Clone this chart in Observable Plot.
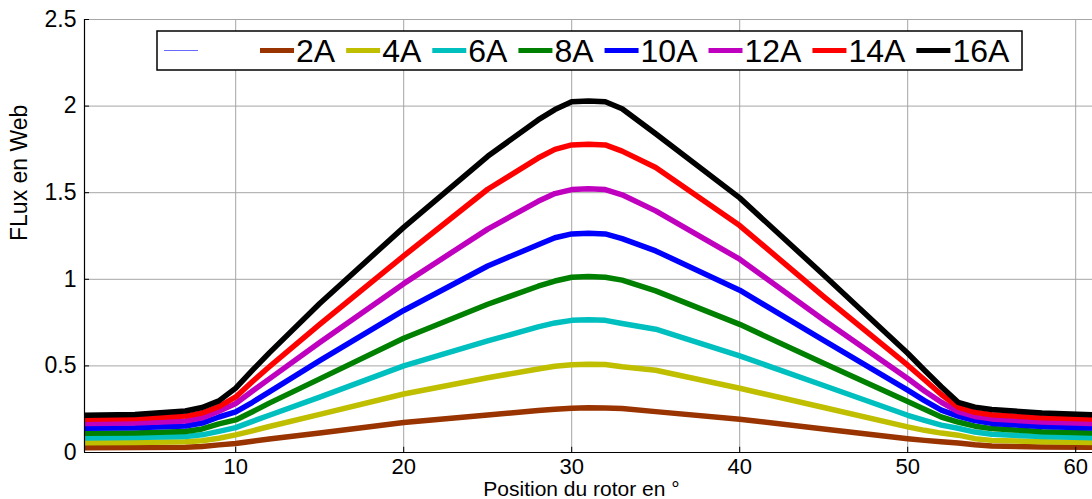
<!DOCTYPE html>
<html>
<head>
<meta charset="utf-8">
<script src="https://cdn.jsdelivr.net/npm/d3@7"></script>
<script src="https://cdn.jsdelivr.net/npm/@observablehq/plot@0.6"></script>
<style>
  html, body { margin: 0; padding: 0; background: #fff; }
  #chart { width: 1092px; height: 499px; }
</style>
</head>
<body>
<div id="chart"></div>
<script>
// rotor positions (degrees)
const positions = [1, 4, 7, 8, 9, 10, 11, 12, 15, 20, 25, 28, 29, 30, 31, 32, 33, 35, 40, 45, 50, 51, 52, 53, 54, 55, 58, 61];

// flux (Wb) per current
const flux2A  = [0.028, 0.029, 0.031, 0.035, 0.044, 0.052, 0.065, 0.078, 0.113, 0.173, 0.217, 0.242, 0.250, 0.256, 0.258, 0.257, 0.254, 0.236, 0.192, 0.136, 0.080, 0.070, 0.062, 0.055, 0.045, 0.038, 0.032, 0.030];
const flux4A  = [0.057, 0.058, 0.062, 0.068, 0.082, 0.102, 0.125, 0.150, 0.220, 0.338, 0.432, 0.482, 0.498, 0.506, 0.510, 0.508, 0.495, 0.475, 0.371, 0.260, 0.148, 0.128, 0.112, 0.100, 0.080, 0.070, 0.062, 0.058];
const flux6A  = [0.084, 0.086, 0.092, 0.102, 0.122, 0.144, 0.180, 0.215, 0.320, 0.500, 0.644, 0.725, 0.748, 0.763, 0.766, 0.763, 0.745, 0.712, 0.558, 0.387, 0.215, 0.185, 0.158, 0.140, 0.118, 0.105, 0.092, 0.085];
const flux8A  = [0.111, 0.113, 0.121, 0.136, 0.165, 0.188, 0.235, 0.285, 0.425, 0.660, 0.856, 0.960, 0.990, 1.012, 1.016, 1.012, 0.995, 0.933, 0.740, 0.515, 0.294, 0.250, 0.205, 0.176, 0.152, 0.138, 0.120, 0.112];
const flux10A = [0.140, 0.143, 0.153, 0.170, 0.205, 0.234, 0.290, 0.350, 0.530, 0.820, 1.077, 1.200, 1.240, 1.262, 1.266, 1.262, 1.235, 1.164, 0.937, 0.648, 0.360, 0.300, 0.245, 0.210, 0.184, 0.168, 0.150, 0.141];
const flux12A = [0.167, 0.170, 0.182, 0.200, 0.238, 0.283, 0.355, 0.425, 0.635, 0.975, 1.290, 1.450, 1.495, 1.518, 1.523, 1.518, 1.488, 1.395, 1.116, 0.765, 0.427, 0.355, 0.290, 0.236, 0.208, 0.194, 0.176, 0.168];
const flux14A = [0.192, 0.196, 0.210, 0.228, 0.265, 0.321, 0.410, 0.495, 0.740, 1.135, 1.520, 1.700, 1.750, 1.776, 1.780, 1.776, 1.740, 1.645, 1.310, 0.900, 0.504, 0.420, 0.335, 0.262, 0.232, 0.218, 0.200, 0.193];
const flux16A = [0.215, 0.220, 0.240, 0.260, 0.298, 0.372, 0.475, 0.575, 0.860, 1.300, 1.710, 1.920, 1.980, 2.025, 2.030, 2.025, 1.985, 1.840, 1.470, 1.025, 0.573, 0.475, 0.380, 0.290, 0.262, 0.248, 0.228, 0.218];

const seriesLabels = ["2A", "4A", "6A", "8A", "10A", "12A", "14A", "16A"];
const seriesColors = ["#993300", "#bfbf00", "#00bfbf", "#008000", "#0000ff", "#bf00bf", "#ff0000", "#000000"];
const seriesValues = [flux2A, flux4A, flux6A, flux8A, flux10A, flux12A, flux14A, flux16A];

const xTicks = [10, 20, 30, 40, 50, 60];
const yTicks = [0, 0.5, 1, 1.5, 2, 2.5];
const yTickLabels = ["0", "0.5", "1", "1.5", "2", "2.5"];
const xTitle = "Position du rotor en °";
const yTitle = "FLux en Web";

const table = [];
seriesLabels.forEach((s, i) => {
  positions.forEach((p, j) => table.push({series: s, position: p, flux: seriesValues[i][j]}));
});

const font = "'Liberation Sans', Arial, sans-serif";
const grid = "#a6a6a6";

const chart = Plot.plot({
  width: 1092,
  height: 499,
  marginLeft: 84,
  marginRight: 0,
  marginTop: 19,
  marginBottom: 47,
  x: {domain: [1, 61], axis: null},
  y: {domain: [0, 2.5], axis: null},
  color: {domain: seriesLabels, range: seriesColors},
  style: {fontFamily: font, background: "#fff", color: "#000"},
  marks: [
    Plot.ruleX(xTicks, {x: d => d, stroke: grid, strokeWidth: 1}),
    Plot.ruleY(yTicks.filter(d => d > 0), {y: d => d, stroke: grid, strokeWidth: 1}),
    Plot.line(table, {x: "position", y: "flux", z: "series", stroke: "series", strokeWidth: 5.5, strokeLinejoin: "round", strokeLinecap: "butt", clip: true}),
    Plot.ruleX([1], {stroke: "#000", strokeWidth: 1.2}),
    Plot.ruleY([0], {stroke: "#000", strokeWidth: 1.2}),
    Plot.ruleX(xTicks, {x: d => d, y1: 0, y2: 0.03, stroke: "#000", strokeWidth: 1}),
    Plot.ruleY(yTicks, {y: d => d, x1: 1, x2: 1.3, stroke: "#000", strokeWidth: 1}),
    Plot.text(xTicks, {x: d => d, y: 0, text: d => String(d), dy: 14, lineAnchor: "middle", fontSize: 22, fill: "#000"}),
    Plot.text(yTicks, {x: 1, y: d => d, text: (d, i) => yTickLabels[i], dx: -8, textAnchor: "end", lineAnchor: "middle", fontSize: 23, fill: "#000"}),
    Plot.text([xTitle], {frameAnchor: "bottom", text: d => d, dx: -7, dy: 36.5, lineAnchor: "middle", fontSize: 21, fill: "#000"}),
    Plot.text([yTitle], {frameAnchor: "left", text: d => d, rotate: -90, dx: -65, dy: 5, lineAnchor: "middle", fontSize: 23, fill: "#000"})
  ]
});

document.getElementById("chart").appendChild(chart);

// legend inside the plot
const svg = d3.select(chart);
const lg = svg.append("g").attr("font-family", font).attr("font-size", 32).attr("text-anchor", "start");
lg.append("rect").attr("x", 157).attr("y", 31).attr("width", 865).attr("height", 39)
  .attr("fill", "#fff").attr("stroke", "#000").attr("stroke-width", 1.5);
const ly = 50.5;
lg.append("line").attr("x1", 164).attr("x2", 198).attr("y1", ly).attr("y2", ly)
  .attr("stroke", "#6a6aff").attr("stroke-width", 1.2);
let cx = 260;
seriesLabels.forEach((s, i) => {
  lg.append("line").attr("x1", cx).attr("x2", cx + 34).attr("y1", ly).attr("y2", ly)
    .attr("stroke", seriesColors[i]).attr("stroke-width", 5);
  const t = lg.append("text").attr("x", cx + 36).attr("y", ly).attr("dy", "0.36em")
    .attr("text-anchor", "start").attr("fill", "#000").text(s);
  const w = t.node().getComputedTextLength();
  cx = cx + 36 + w + 11;
});
</script>
</body>
</html>
